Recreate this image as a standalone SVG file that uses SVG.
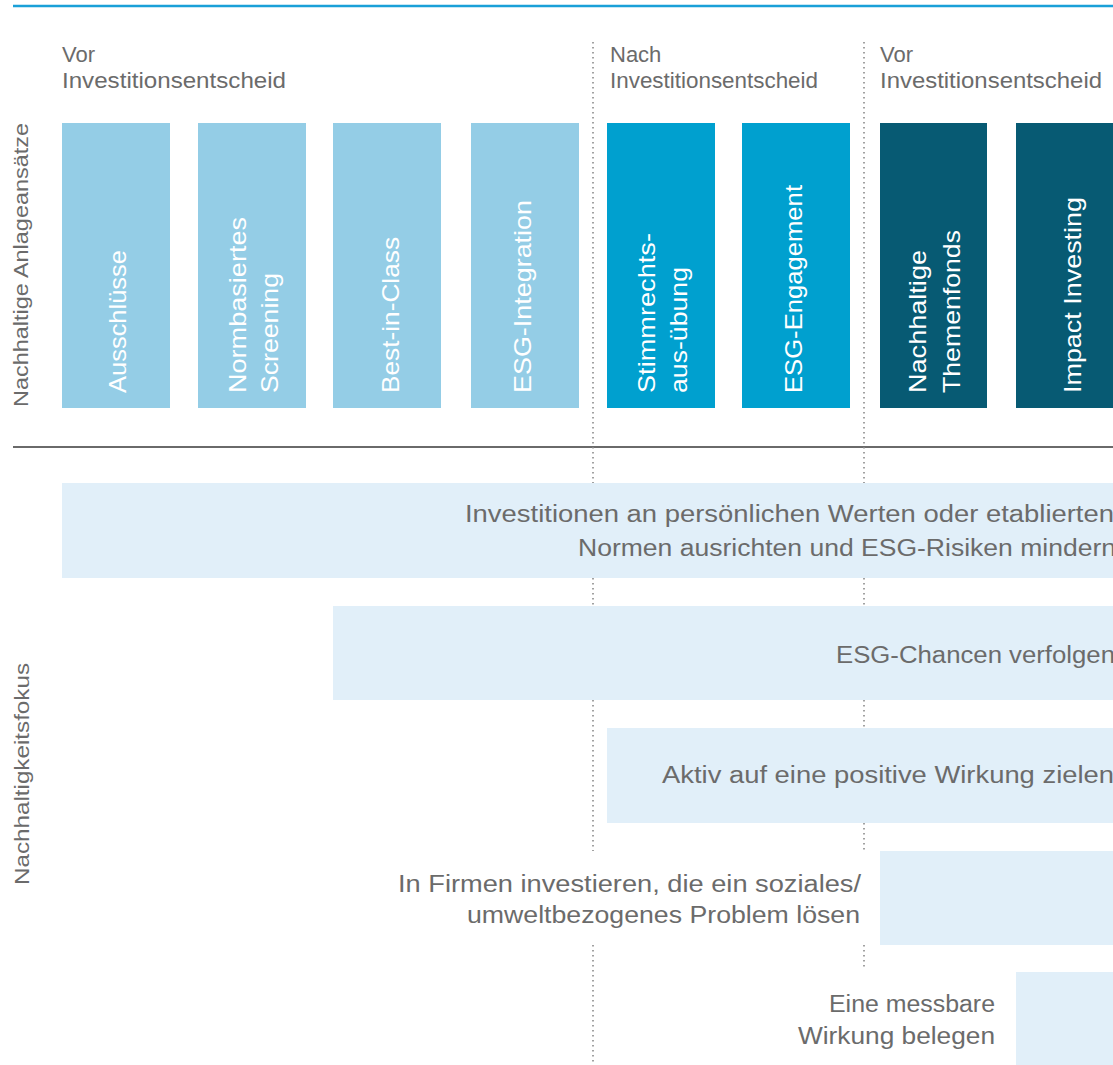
<svg xmlns="http://www.w3.org/2000/svg" width="1113" height="1065" viewBox="0 0 1113 1065">
<style>
text{font-family:"Liberation Sans",Arial,sans-serif}
.hdr{font-size:22px;fill:#6b6b6b}
.axis{font-size:21px;fill:#6b6b6b}
.lbl{font-size:24px;fill:#ffffff}
.body{font-size:23px;fill:#6b6b6b}
.c1{fill:#94cde6}
.c2{fill:#00a0cf}
.c3{fill:#075a73}
.fb{fill:#e1eff9}
.dot{stroke:#8a8a8a;stroke-width:1.6;stroke-dasharray:1.6 3.4;fill:none}
</style>
<rect width="1113" height="1065" fill="#ffffff"/>
<line x1="13" y1="6" x2="1113" y2="6" stroke="#1aa0d8" stroke-width="2.5"/>
<line x1="13" y1="447" x2="1113" y2="447" stroke="#6a6a6a" stroke-width="2"/>

<g id="headers">
<text class="hdr" x="62" y="62">Vor</text>
<text class="hdr" x="62" y="88" textLength="224" lengthAdjust="spacingAndGlyphs">Investitionsentscheid</text>
<text class="hdr" x="610" y="62">Nach</text>
<text class="hdr" x="610" y="88" textLength="208" lengthAdjust="spacingAndGlyphs">Investitionsentscheid</text>
<text class="hdr" x="880" y="62">Vor</text>
<text class="hdr" x="880" y="88" textLength="222" lengthAdjust="spacingAndGlyphs">Investitionsentscheid</text>
</g>

<g id="axis-labels">
<text class="axis" transform="translate(28,407) rotate(-90)" textLength="284" lengthAdjust="spacingAndGlyphs">Nachhaltige Anlageansätze</text>
<text class="axis" transform="translate(29,885) rotate(-90)" textLength="222" lengthAdjust="spacingAndGlyphs">Nachhaltigkeitsfokus</text>
</g>

<g id="connectors">
<path class="dot" d="M593 42V483M593 578V606M593 700V851M593 945V1065"/>
<path class="dot" d="M864 42V483M864 578V606M864 700V728M864 823V851M864 945V968"/>
</g>

<g id="ausschluesse">
<rect class="c1" x="62" y="123" width="108" height="285"/>
<text class="lbl" transform="translate(126,393) rotate(-90)" textLength="143" lengthAdjust="spacingAndGlyphs">Ausschlüsse</text>
</g>
<g id="normbasiertes-screening">
<rect class="c1" x="198" y="123" width="108" height="285"/>
<text class="lbl" transform="translate(246,393) rotate(-90)" textLength="176" lengthAdjust="spacingAndGlyphs">Normbasiertes</text>
<text class="lbl" transform="translate(278,393) rotate(-90)" textLength="120" lengthAdjust="spacingAndGlyphs">Screening</text>
</g>
<g id="best-in-class">
<rect class="c1" x="333" y="123" width="108" height="285"/>
<text class="lbl" transform="translate(399,393) rotate(-90)" textLength="156" lengthAdjust="spacingAndGlyphs">Best-in-Class</text>
</g>
<g id="esg-integration">
<rect class="c1" x="471" y="123" width="108" height="285"/>
<text class="lbl" transform="translate(531,393) rotate(-90)" textLength="193" lengthAdjust="spacingAndGlyphs">ESG-Integration</text>
</g>
<g id="stimmrechtsausuebung">
<rect class="c2" x="607" y="123" width="108" height="285"/>
<text class="lbl" transform="translate(655,393) rotate(-90)" textLength="160" lengthAdjust="spacingAndGlyphs">Stimmrechts-</text>
<text class="lbl" transform="translate(687,393) rotate(-90)" textLength="126" lengthAdjust="spacingAndGlyphs">aus-übung</text>
</g>
<g id="esg-engagement">
<rect class="c2" x="742" y="123" width="108" height="285"/>
<text class="lbl" transform="translate(802,393) rotate(-90)" textLength="208" lengthAdjust="spacingAndGlyphs">ESG-Engagement</text>
</g>
<g id="nachhaltige-themenfonds">
<rect class="c3" x="880" y="123" width="107" height="285"/>
<text class="lbl" transform="translate(926,393) rotate(-90)" textLength="143" lengthAdjust="spacingAndGlyphs">Nachhaltige</text>
<text class="lbl" transform="translate(960,393) rotate(-90)" textLength="163" lengthAdjust="spacingAndGlyphs">Themenfonds</text>
</g>
<g id="impact-investing">
<rect class="c3" x="1016" y="123" width="108" height="285"/>
<text class="lbl" transform="translate(1081,393) rotate(-90)" textLength="196" lengthAdjust="spacingAndGlyphs">Impact Investing</text>
</g>

<g id="fokus-werte">
<rect class="fb" x="62" y="483" width="1060" height="95"/>
<text class="body" x="465" y="522" textLength="649" lengthAdjust="spacingAndGlyphs">Investitionen an persönlichen Werten oder etablierten</text>
<text class="body" x="578" y="556" textLength="538" lengthAdjust="spacingAndGlyphs">Normen ausrichten und ESG-Risiken mindern</text>
</g>
<g id="fokus-chancen">
<rect class="fb" x="333" y="606" width="790" height="94"/>
<text class="body" x="836" y="663" textLength="279" lengthAdjust="spacingAndGlyphs">ESG-Chancen verfolgen</text>
</g>
<g id="fokus-wirkung">
<rect class="fb" x="607" y="728" width="516" height="95"/>
<text class="body" x="662" y="783" textLength="452" lengthAdjust="spacingAndGlyphs">Aktiv auf eine positive Wirkung zielen</text>
</g>
<g id="fokus-probleme">
<rect class="fb" x="880" y="851" width="243" height="94"/>
<text class="body" x="398" y="892" textLength="463" lengthAdjust="spacingAndGlyphs">In Firmen investieren, die ein soziales/</text>
<text class="body" x="467" y="923" textLength="393" lengthAdjust="spacingAndGlyphs">umweltbezogenes Problem lösen</text>
</g>
<g id="fokus-messbar">
<rect class="fb" x="1016" y="972" width="107" height="93"/>
<text class="body" x="829" y="1012" textLength="166" lengthAdjust="spacingAndGlyphs">Eine messbare</text>
<text class="body" x="798" y="1044" textLength="197" lengthAdjust="spacingAndGlyphs">Wirkung belegen</text>
</g>
</svg>
